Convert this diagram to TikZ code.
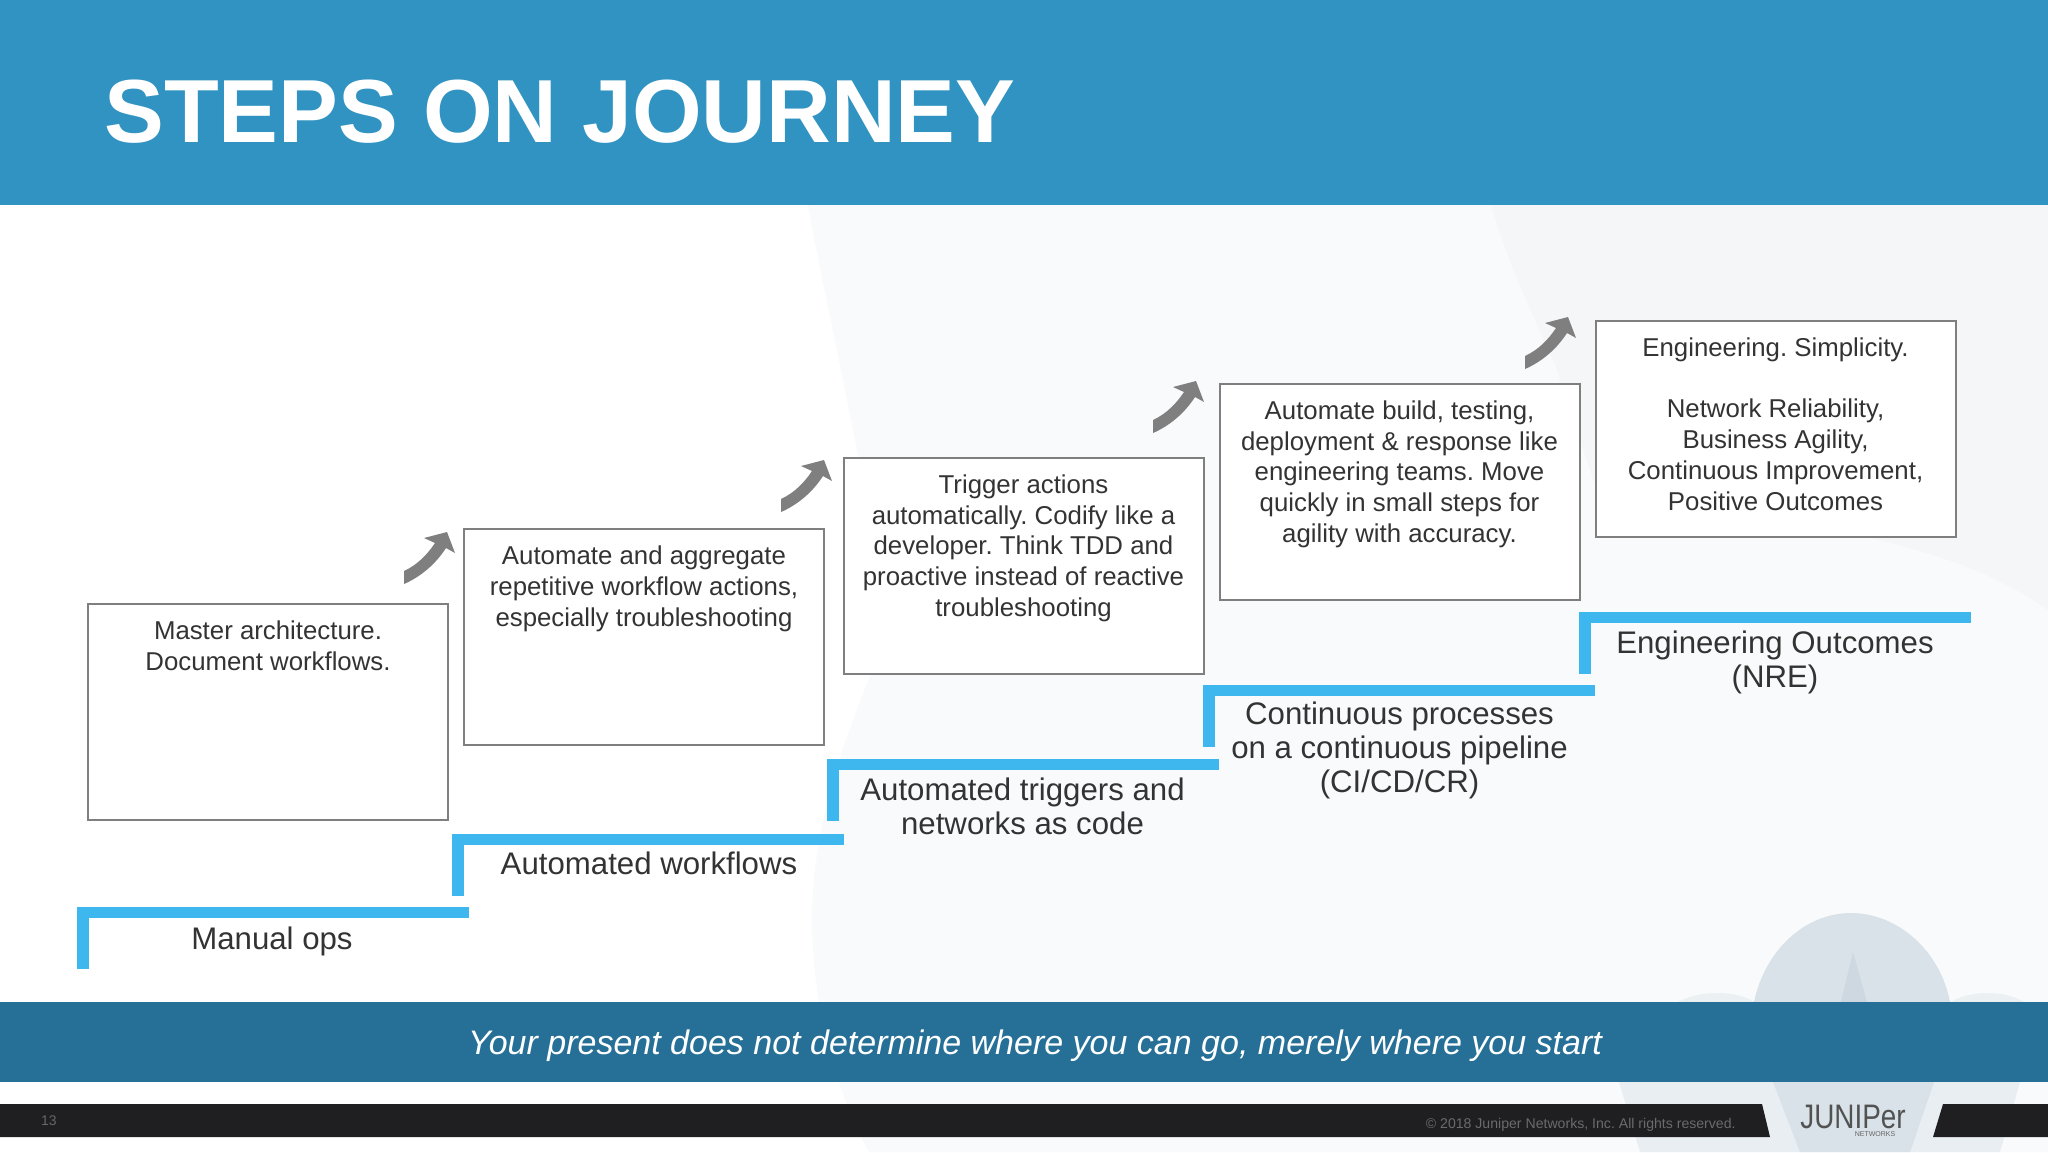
\documentclass[tikz,border=0pt]{standalone}
\usepackage{fontspec}
\setmainfont{Liberation Sans}
\usepackage{graphicx}
\usepackage{tikz}

\definecolor{bandblue}{HTML}{3093C1}
\definecolor{banddark}{HTML}{267097}
\definecolor{stairblue}{HTML}{3DB7EE}
\definecolor{footerblack}{HTML}{1F1F21}
\definecolor{inktext}{HTML}{333333}
\definecolor{boxgray}{HTML}{7F7F80}
\definecolor{wmlight}{HTML}{F9FAFB}
\definecolor{wmtop}{HTML}{F5F6F8}
\definecolor{wmpetal}{HTML}{EBF0F3}
\definecolor{wmsoft}{HTML}{E8EEF2}
\definecolor{wmcircle}{HTML}{D9E2E8}
\definecolor{wmcone}{HTML}{CDD8E1}

\frenchspacing
\newcommand{\boxtext}[1]{\parbox[t][108pt][t]{178pt}{\centering\fontsize{12.9}{15.4}\selectfont\vspace*{8.5pt}#1}}

\tikzset{
  stepbox/.style={shape=rectangle,draw=boxgray,line width=1pt,fill=white,inner sep=0pt,
    text=inktext,minimum width=180pt,minimum height=108pt,align=center},
  stairline/.style={draw=stairblue,line width=5.75pt},
  stairlabel/.style={text=inktext,align=center,font=\fontsize{15.6}{17}\selectfont},
  steparrow/.pic={
    \fill[boxgray] (0,0) -- (8,21) -- (-1,16) .. controls (-12,33) and (-27,45) .. (-43,52)
      -- (-43,39) .. controls (-30,33) and (-20,23) .. (-12,11) -- (-23,6) -- cycle;
  }
}

\begin{document}
\begin{tikzpicture}[x=0.5pt,y=-0.5pt]
\useasboundingbox (0,0) rectangle (2048,1152);
\fill[white] (0,0) rectangle (2048,1152);

% watermark behind the slide
\fill[wmlight] (808,205) .. controls (825,300) and (850,400) .. (890,630)
  .. controls (850,720) and (812,820) .. (812,920) .. controls (812,1000) and (835,1090) .. (869,1152)
  -- (2048,1152) -- (2048,205) -- cycle;
\fill[wmtop] (1491,205) .. controls (1510,270) and (1540,330) .. (1556,367)
  -- (1600,500) .. controls (1800,520) and (1950,540) .. (2048,610) -- (2048,205) -- cycle;
\fill[wmpetal] (1678,1002) .. controls (1700,990) and (1735,990) .. (1755,1002) -- cycle;
\fill[wmpetal] (1951,1002) .. controls (1970,990) and (2005,990) .. (2024,1002) -- cycle;
\fill[wmsoft] (1619,1082) -- (1640,1152) -- (2000,1152) -- (2020,1082) -- cycle;
\fill[wmcircle] (1754,1002) .. controls (1765,950) and (1805,913) .. (1851,913)
  .. controls (1897,913) and (1940,950) .. (1950,1002) -- cycle;
\fill[wmcone] (1853,952) -- (1867,1002) -- (1841,1002) -- cycle;
\fill[wmcircle] (1773,1082) -- (1800,1152) -- (1910,1152) -- (1934,1082) -- cycle;

% bands
\fill[bandblue] (0,0) rectangle (2048,205);
\fill[banddark] (0,1002) rectangle (2048,1082);
\fill[footerblack] (0,1104) -- (1762,1104) -- (1770,1137) -- (0,1137) -- cycle;
\fill[footerblack] (1943,1104) -- (2048,1104) -- (2048,1137) -- (1933,1137) -- cycle;

\path (104,112) node (title) [anchor=west,inner sep=0pt,text=white,font=\fontsize{44.8}{50}\selectfont\bfseries] {STEPS ON JOURNEY};
\path (1035,1046) node (motto) [text=white,font=\fontsize{17}{20}\selectfont\itshape] {Your present does not determine where you can go, merely where you start};
\path (49,1121) node (pageno) [text=white!40!black,font=\fontsize{7}{8}\selectfont] {13};
\path (1736,1125) node (rights) [anchor=east,inner sep=0pt,text=white!42!black,font=\fontsize{7.05}{8}\selectfont] {© 2018 Juniper Networks, Inc. All rights reserved.};
\path (1853,1117) node (logo) [inner sep=0pt,text=white!32!black,font=\fontsize{17}{18}\selectfont] {\scalebox{0.82}[1]{JUNIPer}};
\path (1875,1134) node (logosub) [inner sep=0pt,text=white!40!black,font=\fontsize{3.5}{4}\selectfont] {NETWORKS};

% stairs
\foreach \sx/\sy in {77/907,452/834,827/759,1203/685,1579/612}
  \draw[stairline] (\sx+6,\sy+62) -- (\sx+6,\sy+5.5) -- (\sx+392,\sy+5.5);

\path (272,941) node (manual) [stairlabel] {Manual ops};
\path (649,863) node (workflows) [stairlabel] {Automated workflows};
\path (1022.5,806) node (triggers) [stairlabel] {Automated triggers and\\networks as code};
\path (1399.5,750) node (pipeline) [stairlabel] {Continuous processes\\on a continuous pipeline\\(CI/CD/CR)};
\path (1775,662) node (outcomes) [stairlabel] {Engineering Outcomes\\(NRE)};

% boxes
\path (268,712) node (master) [stepbox] {\boxtext{Master architecture.\\Document workflows.}};
\path (644,637) node (aggregate) [stepbox] {\boxtext{Automate and aggregate\\repetitive workflow actions,\\especially troubleshooting}};
\path (1023.5,565.5) node (codify) [stepbox] {\boxtext{Trigger actions\\automatically. Codify like a\\developer. Think TDD and\\proactive instead of reactive\\troubleshooting}};
\path (1399.5,491.5) node (build) [stepbox] {\boxtext{Automate build, testing,\\deployment \& response like\\engineering teams. Move\\quickly in small steps for\\agility with accuracy.}};
\path (1775.5,428.5) node (simplicity) [stepbox] {\boxtext{Engineering. Simplicity.\\\mbox{}\\Network Reliability,\\Business Agility,\\Continuous Improvement,\\Positive Outcomes}};

% arrows between the boxes
\foreach \tipx/\tipy in {447/532,824/460,1196/381,1568/317}
  \pic at (\tipx,\tipy) {steparrow};
\end{tikzpicture}
\end{document}
